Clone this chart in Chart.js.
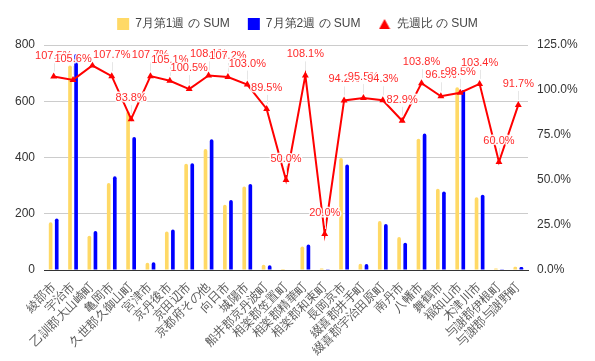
<!DOCTYPE html>
<html><head><meta charset="utf-8">
<script src="https://cdn.jsdelivr.net/npm/chart.js@4/dist/chart.umd.min.js"></script>
<style>html,body{margin:0;padding:0;background:#fff;}#wrap{width:595px;height:361px;}</style>
</head><body><div id="wrap"><canvas id="c" width="595" height="361"></canvas></div>
<script>
const categories = ['綾部市','宇治市','乙訓郡大山崎町','亀岡市','久世郡久御山町','宮津市','京丹後市','京田辺市','京都府その他','向日市','城陽市','船井郡京丹波町','相楽郡笠置町','相楽郡精華町','相楽郡和束町','長岡京市','綴喜郡井手町','綴喜郡宇治田原町','南丹市','八幡市','舞鶴市','福知山市','木津川市','与謝郡伊根町','与謝郡与謝野町'];
const week1 = [170,727,122,309,564,26,137,378,430,232,297,19,4,84,5,398,22,174,117,467,289,650,259,5,12];
const week2 = [183,768,139,333,473,28,144,380,465,249,306,17,2,91,1,375,21,164,97,485,279,640,268,3,11];
const ratio = [107.5,105.6,113.6,107.7,83.8,107.7,105.1,100.5,108.1,107.2,103.0,89.5,50.0,108.1,20.0,94.2,95.5,94.3,82.9,103.8,96.5,98.5,103.4,60.0,91.7];
const hiddenLabels = [2];
const seriesNames = ['7月第1週 の SUM','7月第2週 の SUM','先週比 の SUM'];

const FONT = '"Liberation Sans", Arial, sans-serif';

// small triangle marker for the legend
const triIcon = document.createElement('canvas');
triIcon.width = 12; triIcon.height = 12;
(() => { const t = triIcon.getContext('2d'); t.fillStyle = '#ff0000'; t.beginPath(); t.moveTo(6, 1); t.lineTo(11.5, 11); t.lineTo(0.5, 11); t.closePath(); t.fill(); })();

const legendHeightPlugin = {
  id: 'legendHeight',
  beforeLayout(chart) {
    const lg = chart.legend;
    if (lg && !lg._patched) {
      const f = lg.fit.bind(lg);
      lg.fit = function () { f(); this.height = 45; };
      lg._patched = true;
    }
  }
};

const labelPlugin = {
  id: 'ratioLabels',
  afterDatasetsDraw(chart) {
    const ctx = chart.ctx;
    const meta = chart.getDatasetMeta(0);
    ctx.save();
    ctx.font = '11px ' + FONT;
    ctx.textAlign = 'center';
    ctx.textBaseline = 'middle';
    meta.data.forEach((pt, i) => {
      if (hiddenLabels.includes(i)) return;
      const x = pt.x, y = pt.y - 21;
      ctx.strokeStyle = '#e6e6e6';
      ctx.lineWidth = 1;
      ctx.beginPath();
      ctx.moveTo(Math.round(x) + 0.5, y + 7);
      ctx.lineTo(Math.round(x) + 0.5, pt.y - 5);
      ctx.stroke();
    });
    meta.data.forEach((pt, i) => {
      if (hiddenLabels.includes(i)) return;
      const txt = ratio[i].toFixed(1) + '%';
      const x = pt.x, y = pt.y - 21;
      ctx.lineJoin = 'round';
      ctx.strokeStyle = 'rgba(255,255,255,0.9)';
      ctx.lineWidth = 3;
      ctx.strokeText(txt, x, y);
      ctx.fillStyle = '#ff2a2a';
      ctx.fillText(txt, x, y);
    });
    ctx.restore();
  }
};

new Chart(document.getElementById('c'), {
  data: {
    labels: categories,
    datasets: [
      { type: 'line', label: seriesNames[2], data: ratio, yAxisID: 'y1', borderColor: '#ff0000', backgroundColor: '#ff0000',
        borderWidth: 2, pointStyle: 'triangle', pointRadius: 4, pointBorderWidth: 0, tension: 0, order: 0 },
      { type: 'bar', label: seriesNames[0], data: week1, yAxisID: 'y', backgroundColor: '#ffd966', pointStyle: 'rect',
        barPercentage: 0.6, categoryPercentage: 0.63, borderRadius: 2, order: 1 },
      { type: 'bar', label: seriesNames[1], data: week2, yAxisID: 'y', backgroundColor: '#0000ff', pointStyle: 'rect',
        barPercentage: 0.6, categoryPercentage: 0.63, borderRadius: 2, order: 1 }
    ]
  },
  options: {
    responsive: false,
    animation: false,
    layout: { padding: { top: 0, left: 0, right: 0, bottom: 0 } },
    plugins: {
      legend: {
        position: 'top',
        labels: {
          usePointStyle: true,
          boxWidth: 12, boxHeight: 12,
          padding: 18,
          color: '#444',
          font: { family: FONT, size: 12 },
          generateLabels(chart) {
            const items = Chart.defaults.plugins.legend.labels.generateLabels(chart);
            items.forEach(it => { if (it.datasetIndex === 0) { it.pointStyle = triIcon; } });
            return items;
          },
          sort: (a, b) => [1,2,0].indexOf(a.datasetIndex) - [1,2,0].indexOf(b.datasetIndex)
        }
      },
      tooltip: { enabled: false }
    },
    scales: {
      x: {
        grid: { display: false },
        border: { display: true, color: '#333', width: 1 },
        ticks: { autoSkip: false, minRotation: 45, maxRotation: 45, color: '#555', font: { family: FONT, size: 12 }, padding: 2 },
        afterFit(s) { s.height = 91; }
      },
      y: {
        position: 'left', min: 0, max: 800,
        ticks: { stepSize: 200, color: '#333', font: { family: FONT, size: 12 }, padding: 9 },
        grid: { color: (c) => c.tick && c.tick.value === 0 ? '#333' : '#cccccc', drawTicks: false },
        border: { display: false },
        afterFit(s) { s.width = 44; }
      },
      y1: {
        position: 'right', min: 0, max: 125,
        ticks: { stepSize: 25, color: '#333', font: { family: FONT, size: 12 }, padding: 9, callback: (v) => v.toFixed(1) + '%' },
        grid: { display: false, drawTicks: false },
        border: { display: false },
        afterFit(s) { s.width = 67; }
      }
    }
  },
  plugins: [legendHeightPlugin, labelPlugin]
});
</script></body></html>
